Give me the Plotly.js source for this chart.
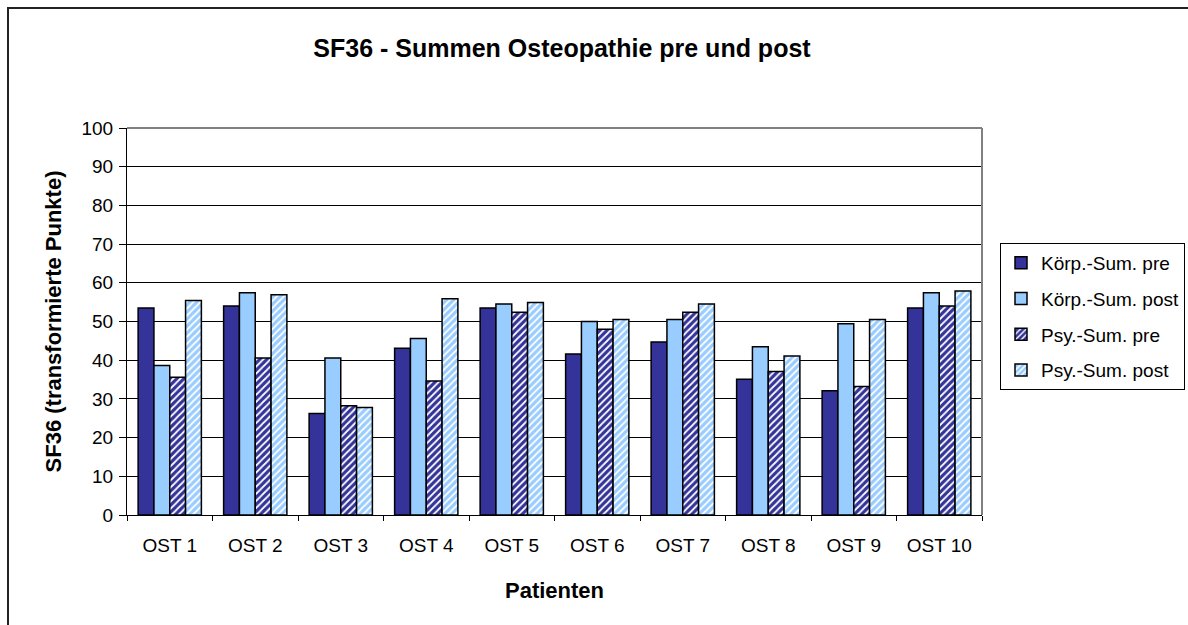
<!DOCTYPE html>
<html>
<head>
<meta charset="utf-8">
<script src="https://cdn.plot.ly/plotly-3.0.1.min.js"></script>
<style>
html,body{margin:0;padding:0;background:#fff;overflow:hidden;}
#frame{position:absolute;left:7px;top:7px;width:1300px;height:800px;border-left:2px solid #222;border-top:2px solid #222;pointer-events:none;z-index:5;}
#chart{position:absolute;left:0;top:0;width:1188px;height:625px;}
</style>
</head>
<body>
<div id="chart"></div>
<div id="frame"></div>
<script>
const categories = ["OST 1","OST 2","OST 3","OST 4","OST 5","OST 6","OST 7","OST 8","OST 9","OST 10"];
const koerpPre  = [53.5, 54.0, 26.2, 43.1, 53.5, 41.6, 44.7, 35.1, 32.1, 53.5];
const koerpPost = [38.6, 57.4, 40.6, 45.6, 54.5, 50.0, 50.5, 43.5, 49.4, 57.4];
const psyPre    = [35.6, 40.6, 28.2, 34.6, 52.4, 48.0, 52.4, 37.1, 33.2, 54.0];
const psyPost   = [55.4, 56.9, 27.8, 55.9, 54.9, 50.5, 54.5, 41.1, 50.5, 57.9];
const seriesNames = ["Körp.-Sum. pre","Körp.-Sum. post","Psy.-Sum. pre","Psy.-Sum. post"];
const yTicks = [0,10,20,30,40,50,60,70,80,90,100];

const dark = "#333399", light = "#99CCFF";
const outline = {color:"#000000", width:1.5};
const FONT = "Liberation Sans, Arial, sans-serif";

const traces = [
  {type:"bar", name:seriesNames[0], x:categories, y:koerpPre, legendgroup:"a",
   marker:{color:dark, line:outline}},
  {type:"bar", name:seriesNames[1], x:categories, y:koerpPost, legendgroup:"b",
   marker:{color:light, line:outline}},
  {type:"bar", name:seriesNames[2], x:categories, y:psyPre, legendgroup:"c",
   marker:{color:dark, line:outline,
     pattern:{shape:"/", fillmode:"replace", bgcolor:dark, fgcolor:"#ffffff", size:5, solidity:0.35}}},
  {type:"bar", name:seriesNames[3], x:categories, y:psyPost, legendgroup:"d",
   marker:{color:light, line:outline,
     pattern:{shape:"/", fillmode:"replace", bgcolor:light, fgcolor:"#ffffff", size:5, solidity:0.35}}}
];

const W = 1188, H = 625, L = 127, R = 206;
const innerW = W - L - R;

const layout = {
  width:W, height:H,
  paper_bgcolor:"#ffffff", plot_bgcolor:"#ffffff",
  margin:{l:L, r:R, t:128, b:110},
  font:{family:FONT, color:"#000"},
  title:{text:"<b>SF36 - Summen Osteopathie pre und post</b>", font:{size:25, family:FONT, color:"#000"},
         x:(562-L)/innerW, xanchor:"center", y:0.923, yanchor:"middle", xref:"paper"},
  barmode:"group", bargap:0.26, bargroupgap:0,
  xaxis:{
    type:"category",
    title:{text:"<b>Patienten</b>", font:{size:22, family:FONT, color:"#000"}, standoff:27},
    tickfont:{size:19, family:FONT, color:"#000"},
    ticks:"outside", ticklen:5, tickcolor:"#000", tickson:"boundaries",
    ticklabelstandoff:13,
    showline:true, linecolor:"#000", linewidth:1,
    showgrid:false, zeroline:false
  },
  yaxis:{
    range:[0,100], tickvals:yTicks, ticktext:yTicks.map(String),
    title:{text:"<b>SF36 (transformierte Punkte)</b>", font:{size:22, family:FONT, color:"#000"}, standoff:13},
    tickfont:{size:19, family:FONT, color:"#000"},
    ticks:"outside", ticklen:7, tickcolor:"#000",
    ticklabelstandoff:2,
    showline:true, linecolor:"#000", linewidth:1,
    showgrid:true, gridcolor:"#000", gridwidth:1,
    zeroline:false
  },
  legend:{
    xref:"container", yref:"container",
    x:1000/W, xanchor:"left", y:1-243/H, yanchor:"top",
    bordercolor:"#000", borderwidth:1, bgcolor:"#fff",
    font:{size:19, family:FONT, color:"#000"},
    tracegroupgap:8, itemwidth:30
  },
  shapes:[
    {type:"line", xref:"paper", yref:"paper", x0:0, x1:1, y0:1, y1:1, line:{color:"#808080", width:2}, layer:"above"},
    {type:"line", xref:"paper", yref:"paper", x0:1, x1:1, y0:0, y1:1, line:{color:"#808080", width:2}, layer:"above"}
  ]
};

Plotly.newPlot("chart", traces, layout, {displayModeBar:false, staticPlot:true});
</script>
</body>
</html>
